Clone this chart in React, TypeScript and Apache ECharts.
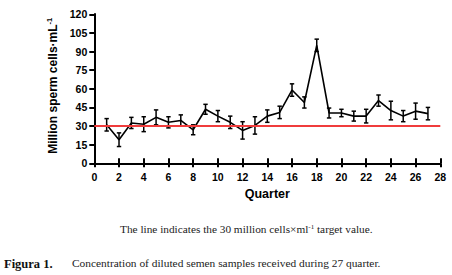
import React, { useEffect, useRef } from "react";
import * as echarts from "echarts";

const quarters = [1, 2, 3, 4, 5, 6, 7, 8, 9, 10, 11, 12, 13, 14, 15, 16, 17, 18, 19, 20, 21, 22, 23, 24, 25, 26, 27];
const means = [31, 19, 32.5, 31.5, 37, 33, 34.5, 27, 43.5, 38, 33, 26.5, 30.5, 38, 41, 59, 49, 95, 40.5, 40.5, 38, 38, 50.5, 42.5, 38, 42, 40];
const errors = [5, 5.5, 4.5, 6, 6, 4.5, 4.5, 4, 4, 4.5, 5, 7, 7, 5, 5, 5, 4.5, 5, 4, 3, 4, 5.5, 4.5, 7.5, 4.5, 6.5, 5];
const targetValue = 30;
const yTicks = { min: 0, max: 120, interval: 15 };
const xTicks = { min: 0, max: 28, interval: 2 };

const yAxisTitle = "Million sperm cells·mL";
const xAxisTitle = "Quarter";
const noteText = "The line indicates the 30 million cells×ml";
const noteTail = " target value.";
const figLabel = "Figura 1.";
const figCaption = "Concentration of diluted semen samples received during 27 quarter.";

export default function App() {
  const ref = useRef<HTMLDivElement>(null);
  useEffect(() => {
    if (!ref.current) return;
    const chart = echarts.init(ref.current, null, { renderer: "svg" });
    const lineData = quarters.map((q, i) => [q, means[i]]);
    const errData = quarters.map((q, i) => [q, means[i] - errors[i], means[i] + errors[i]]);
    const axisFont = { fontFamily: "Liberation Sans", fontWeight: "bold" as const, color: "#000" };
    chart.setOption({
      animation: false,
      backgroundColor: "#fff",
      grid: { left: 94.3, right: 11.7, top: 14.3, bottom: 111.7 },
      xAxis: [
        {
          type: "value",
          min: xTicks.min,
          max: xTicks.max,
          interval: xTicks.interval,
          position: "bottom",
          splitLine: { show: false },
          axisLine: { show: true, lineStyle: { color: "#000", width: 2 } },
          axisTick: { show: true, length: 4, lineStyle: { color: "#000", width: 2 } },
          axisLabel: { ...axisFont, fontSize: 10.5, margin: 8 },
          name: xAxisTitle,
          nameLocation: "middle",
          nameGap: 23,
          nameTextStyle: { ...axisFont, fontSize: 12.5 },
        },
        {
          type: "value",
          min: xTicks.min,
          max: xTicks.max,
          interval: xTicks.interval,
          position: "bottom",
          splitLine: { show: false },
          axisLine: { show: false },
          axisTick: { show: true, inside: true, length: 5, lineStyle: { color: "#000", width: 2 } },
          axisLabel: { show: false },
        },
      ],
      yAxis: [
        {
          type: "value",
          min: yTicks.min,
          max: yTicks.max,
          interval: yTicks.interval,
          position: "left",
          splitLine: { show: false },
          axisLine: { show: true, lineStyle: { color: "#000", width: 2 } },
          axisTick: { show: true, length: 5, lineStyle: { color: "#000", width: 2 } },
          axisLabel: { ...axisFont, fontSize: 10.5, margin: 7 },
          name: yAxisTitle + "{sup|-1}",
          nameLocation: "middle",
          nameRotate: 90,
          nameGap: 31,
          nameTextStyle: {
            ...axisFont,
            fontSize: 12,
            padding: [0, 0, 0, 6],
            rich: {
              sup: { fontFamily: "Liberation Sans", fontWeight: "bold", fontSize: 7.5, color: "#000", verticalAlign: "top", padding: [0, 0, 6, 0] },
            },
          },
        },
        {
          type: "value",
          min: 0,
          max: 125,
          position: "left",
          splitLine: { show: false },
          axisLine: { show: true, lineStyle: { color: "#000", width: 2 } },
          axisTick: { show: false },
          axisLabel: { show: false },
        },
      ],
      series: [
        {
          type: "line",
          data: lineData,
          xAxisIndex: 0,
          yAxisIndex: 0,
          showSymbol: false,
          symbol: "none",
          lineStyle: { color: "#000", width: 1.6 },
          z: 3,
        },
        {
          type: "custom",
          xAxisIndex: 0,
          yAxisIndex: 0,
          data: errData,
          z: 3,
          renderItem: (params: any, api: any) => {
            const x = api.value(0);
            const lo = api.coord([x, api.value(1)]);
            const hi = api.coord([x, api.value(2)]);
            const hw = 2.2;
            const style = { stroke: "#000", lineWidth: 1.5 };
            return {
              type: "group",
              children: [
                { type: "line", shape: { x1: lo[0], y1: lo[1], x2: hi[0], y2: hi[1] }, style },
                { type: "line", shape: { x1: lo[0] - hw, y1: lo[1], x2: lo[0] + hw, y2: lo[1] }, style },
                { type: "line", shape: { x1: hi[0] - hw, y1: hi[1], x2: hi[0] + hw, y2: hi[1] }, style },
              ],
            };
          },
        },
        {
          type: "line",
          data: [],
          xAxisIndex: 0,
          yAxisIndex: 0,
          z: 5,
          markLine: {
            silent: true,
            symbol: "none",
            label: { show: false },
            lineStyle: { color: "#f03c3c", width: 2, type: "solid" },
            data: [{ yAxis: targetValue }],
            z: 5,
          },
        },
      ],
      graphic: [
        {
          type: "text",
          left: 120,
          top: 223.5,
          style: {
            text: noteText + "{sup|-1}" + noteTail,
            fontFamily: "Liberation Serif",
            fontSize: 11.3,
            fill: "#222",
            rich: { sup: { fontFamily: "Liberation Serif", fontSize: 7, fill: "#222", verticalAlign: "top" } },
          },
        },
        {
          type: "text",
          left: 4,
          top: 257,
          style: { text: figLabel, fontFamily: "Liberation Serif", fontWeight: "bold", fontSize: 12.5, fill: "#111" },
        },
        {
          type: "text",
          left: 72,
          top: 257.5,
          style: { text: figCaption, fontFamily: "Liberation Serif", fontSize: 11.4, fill: "#222" },
        },
      ],
    });
    return () => chart.dispose();
  }, []);
  return <div ref={ref} style={{ position: "fixed", left: 0, top: 0, width: 452, height: 275 }} />;
}
